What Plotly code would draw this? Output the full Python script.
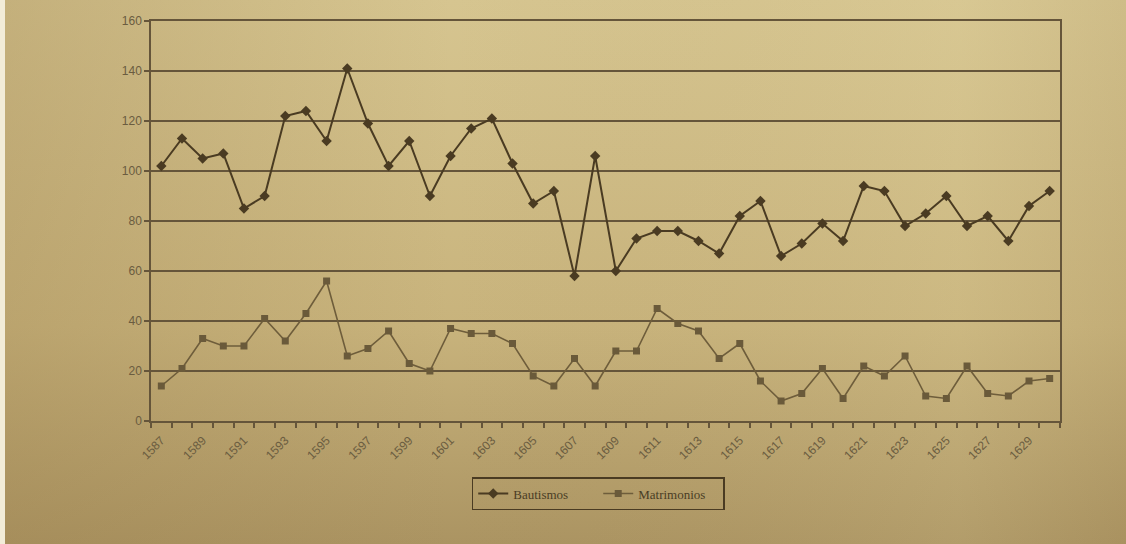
import base64
import plotly.graph_objects as go

# Años del registro parroquial
years = list(range(1587, 1631))

bautismos = [102, 113, 105, 107, 85, 90, 122, 124, 112, 141,
             119, 102, 112, 90, 106, 117, 121, 103, 87, 92,
             58, 106, 60, 73, 76, 76, 72, 67, 82, 88,
             66, 71, 79, 72, 94, 92, 78, 83, 90, 78,
             82, 72, 86, 92]

matrimonios = [14, 21, 33, 30, 30, 41, 32, 43, 56, 26,
               29, 36, 23, 20, 37, 35, 35, 31, 18, 14,
               25, 14, 28, 28, 45, 39, 36, 25, 31, 16,
               8, 11, 21, 9, 22, 18, 26, 10, 9, 22,
               11, 10, 16, 17]

label_years = list(range(1587, 1631, 2))
y_ticks = [0, 20, 40, 60, 80, 100, 120, 140, 160]

W, H = 1126, 544
ML, MR, MT, MB = 151, 66, 21, 123
PW, PH = W - ML - MR, H - MT - MB

INK = "#4a3b22"
INK2 = "#6e5d3b"
GRID = "#65553a"
TXT = "#6a5c40"

# fondo de papel envejecido (degradado)
svg = f"""<svg xmlns='http://www.w3.org/2000/svg' width='{W}' height='{H}'>
<defs>
<linearGradient id='v' x1='0' y1='0' x2='0' y2='1'>
<stop offset='0' stop-color='#d6c590'/>
<stop offset='0.6' stop-color='#c8b37c'/>
<stop offset='1' stop-color='#ab9462'/>
</linearGradient>
<linearGradient id='h' x1='0' y1='0' x2='1' y2='0'>
<stop offset='0' stop-color='#9a7f4c' stop-opacity='0.3'/>
<stop offset='0.4' stop-color='#9a7f4c' stop-opacity='0'/>
<stop offset='0.85' stop-color='#e8dca8' stop-opacity='0.12'/>
<stop offset='1' stop-color='#9a8050' stop-opacity='0.12'/>
</linearGradient>
</defs>
<rect width='{W}' height='{H}' fill='url(#v)'/>
<rect width='{W}' height='{H}' fill='url(#h)'/>
<rect width='5' height='{H}' fill='#f2ecd8'/>
</svg>"""
bg_src = "data:image/svg+xml;base64," + base64.b64encode(svg.encode()).decode()

fig = go.Figure()
fig.add_trace(go.Scatter(
    x=years, y=bautismos, name="Bautismos", mode="lines+markers",
    line=dict(color=INK, width=2),
    marker=dict(symbol="diamond", size=8, color=INK),
))
fig.add_trace(go.Scatter(
    x=years, y=matrimonios, name="Matrimonios", mode="lines+markers",
    line=dict(color=INK2, width=1.6),
    marker=dict(symbol="square", size=7, color="#6a5a3a"),
))

fig.add_layout_image(dict(
    source=bg_src, xref="paper", yref="paper",
    x=-ML / PW, y=1 + MT / PH, sizex=W / PW, sizey=H / PH,
    xanchor="left", yanchor="top", sizing="stretch", layer="below",
))

fig.update_layout(
    width=W, height=H,
    margin=dict(l=ML, r=MR, t=MT, b=MB),
    paper_bgcolor="#c9b47c",
    plot_bgcolor="rgba(0,0,0,0)",
    showlegend=True,
    legend=dict(
        orientation="h", x=0.492, y=-0.14, xanchor="center", yanchor="top",
        bordercolor=INK, borderwidth=1.5, bgcolor="rgba(0,0,0,0)",
        font=dict(family="Liberation Serif", size=13, color="#4a3d25"),
        itemwidth=30, entrywidth=80,
    ),
    font=dict(family="Liberation Sans", color=TXT),
)

fig.update_xaxes(
    range=[1586.5, 1630.5],
    tickmode="array", tickvals=label_years,
    ticktext=[str(y) for y in label_years],
    tickangle=-45, ticks="", ticklen=0, ticklabelstandoff=6,
    tickfont=dict(size=12, color=TXT),
    showgrid=False, zeroline=False,
    showline=True, linecolor=GRID, linewidth=1.5, mirror=True,
    minor=dict(ticks="outside", ticklen=5, tickcolor=GRID, tickwidth=1.5,
               tick0=1586.5, dtick=1, showgrid=False),
)
fig.update_yaxes(
    range=[0, 160],
    tickmode="array", tickvals=y_ticks,
    ticks="outside", ticklen=5, tickcolor=GRID, tickwidth=1.5,
    tickfont=dict(size=12, color=TXT),
    showgrid=True, gridcolor=GRID, gridwidth=1.5,
    zeroline=False,
    showline=True, linecolor=GRID, linewidth=1.5, mirror=True,
)

fig.write_html("out.html")
